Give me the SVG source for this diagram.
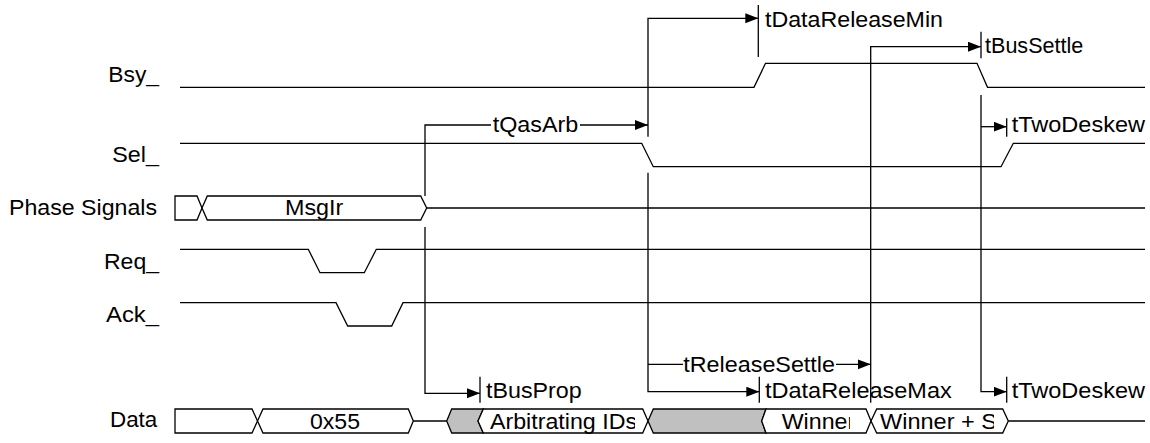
<svg xmlns="http://www.w3.org/2000/svg" width="1150" height="443" viewBox="0 0 1150 443">
<style>
.sig{fill:none;stroke:#000;stroke-width:1.3}
.box{fill:#fff;stroke:#000;stroke-width:1.3}
.grey{fill:#c0c0c0;stroke:#000;stroke-width:1.3}
.con{fill:none;stroke:#000;stroke-width:1.3}
.arr{fill:none;stroke:#000;stroke-width:1.3;marker-end:url(#ah)}
.tk{stroke:#000;stroke-width:1.3}
text{font-family:"Liberation Sans",Arial,sans-serif;font-size:21.5px;fill:#000}
</style>
<defs>
<marker id="ah" markerUnits="userSpaceOnUse" markerWidth="14" markerHeight="11" refX="13" refY="5" orient="auto">
<path d="M0,0 L13,5 L0,10 z" fill="#000"/>
</marker>
<clipPath id="c1"><rect x="478" y="405" width="157" height="30"/></clipPath>
<clipPath id="c2"><rect x="766" y="405" width="84" height="30"/></clipPath>
<clipPath id="c3"><rect x="876" y="405" width="118" height="30"/></clipPath>
</defs>

<g id="bsy">
<text x="108.3" y="82" textLength="50.7" lengthAdjust="spacingAndGlyphs">Bsy_</text>
<polyline class="sig" points="180,87.3 754,87.3 765.5,63.3 977,63.3 987.5,87.3 1145,87.3"/>
</g>
<g id="sel">
<text x="112.3" y="161.7" textLength="46.7" lengthAdjust="spacingAndGlyphs">Sel_</text>
<polyline class="sig" points="180,143.3 641.7,143.3 653.3,166.7 1001,166.7 1013.3,143.3 1145,143.3"/>
</g>
<g id="phase">
<text x="9" y="215" textLength="148" lengthAdjust="spacingAndGlyphs">Phase Signals</text>
<polygon class="box" points="175,196 197,196 202,208 197,220 175,220"/>
<polygon class="box" points="202,208 207.3,196 420.7,196 426.7,208 420.7,220 207.3,220"/>
<text x="285" y="215" textLength="58.3" lengthAdjust="spacingAndGlyphs">MsgIr</text>
<line class="sig" x1="426.7" y1="208" x2="1145" y2="208"/>
</g>
<g id="req">
<text x="104" y="269.3" textLength="55" lengthAdjust="spacingAndGlyphs">Req_</text>
<polyline class="sig" points="180,249.3 308.3,249.3 320,272.7 364.3,272.7 376.3,249.3 1145,249.3"/>
</g>
<g id="ack">
<text x="106" y="321.7" textLength="53" lengthAdjust="spacingAndGlyphs">Ack_</text>
<polyline class="sig" points="180,302.7 336,302.7 347.7,326 391.7,326 403,302.7 1145,302.7"/>
</g>
<g id="data">
<text x="110" y="426.7" textLength="47.3" lengthAdjust="spacingAndGlyphs">Data</text>
<polygon class="box" points="175,409 252,409 257.5,421 252,433 175,433"/>
<polygon class="box" points="257.5,421 263,409 408.3,409 413.3,421 408.3,433 263,433"/>
<text x="310" y="428.5" textLength="50" lengthAdjust="spacingAndGlyphs">0x55</text>
<line class="sig" x1="413.3" y1="421" x2="446.7" y2="421"/>
<polygon class="grey" points="446.7,421 451.7,409 483.3,409 478,421 483.3,433 451.7,433"/>
<polygon class="box" points="478,421 483.3,409 642.7,409 648,421 642.7,433 483.3,433"/>
<text x="490" y="428.5" textLength="147" lengthAdjust="spacingAndGlyphs" clip-path="url(#c1)">Arbitrating IDs</text>
<polygon class="grey" points="648,421 653.3,409 766,409 761.7,421 766,433 653.3,433"/>
<polygon class="box" points="761.7,421 766,409 866,409 871,421 866,433 766,433"/>
<text x="781.7" y="428.5" textLength="73.5" lengthAdjust="spacingAndGlyphs" clip-path="url(#c2)">Winner</text>
<polygon class="box" points="871,421 876.7,409 1002.7,409 1008.3,421 1002.7,433 876.7,433"/>
<text x="880" y="428.5" textLength="117" lengthAdjust="spacingAndGlyphs" clip-path="url(#c3)">Winner + S</text>
<line class="sig" x1="1008.3" y1="421" x2="1145" y2="421"/>
</g>

<g id="connectors">
<path class="con" d="M425,196 V125 H491"/>
<path class="arr" d="M580,125 H648"/>
<path class="arr" d="M425,227 V393.3 H480"/>
<line class="tk" x1="480" y1="376.7" x2="480" y2="402.7"/>
<path class="arr" d="M648,136.7 V18.3 H758.3"/>
<line class="tk" x1="758.3" y1="5" x2="758.3" y2="57"/>
<path class="arr" d="M648,172.7 V391.7 H759.3"/>
<line class="tk" x1="759.3" y1="376.7" x2="759.3" y2="402.7"/>
<path class="con" d="M648,364.3 H683"/>
<path class="arr" d="M836,364.3 H870.7"/>
<path class="arr" d="M870.7,402.7 V46.7 H981"/>
<line class="tk" x1="981" y1="31.7" x2="981" y2="58.3"/>
<path class="arr" d="M981,95 V391.7 H1006.7"/>
<line class="tk" x1="1006.7" y1="376.7" x2="1006.7" y2="402.7"/>
<path class="arr" d="M981,126.7 H1006.7"/>
<line class="tk" x1="1006.7" y1="118.3" x2="1006.7" y2="136.7"/>
</g>

<g id="labels">
<text x="492.7" y="132.3" textLength="85.6" lengthAdjust="spacingAndGlyphs">tQasArb</text>
<text x="765" y="27.3" textLength="178" lengthAdjust="spacingAndGlyphs">tDataReleaseMin</text>
<text x="985" y="53.3" textLength="98.3" lengthAdjust="spacingAndGlyphs">tBusSettle</text>
<text x="1011.7" y="131.7" textLength="133.3" lengthAdjust="spacingAndGlyphs">tTwoDeskew</text>
<text x="486" y="398.3" textLength="95.7" lengthAdjust="spacingAndGlyphs">tBusProp</text>
<text x="683.3" y="371.7" textLength="151.7" lengthAdjust="spacingAndGlyphs">tReleaseSettle</text>
<text x="765" y="398" textLength="186.7" lengthAdjust="spacingAndGlyphs">tDataReleaseMax</text>
<text x="1011.7" y="398" textLength="133.3" lengthAdjust="spacingAndGlyphs">tTwoDeskew</text>
</g>
</svg>
